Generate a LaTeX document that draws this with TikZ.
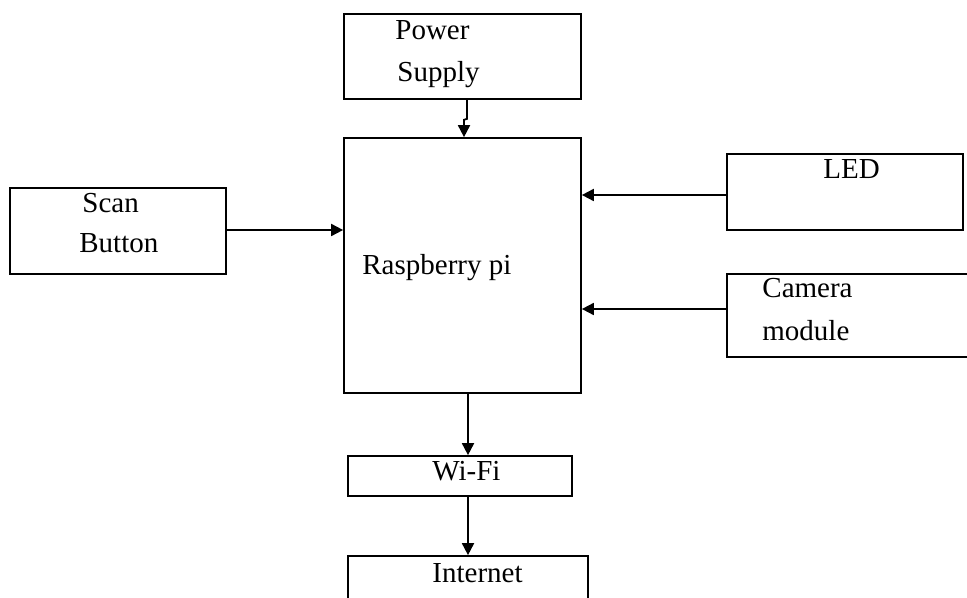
\documentclass[tikz,border=0pt]{standalone}
\usepackage{fontspec}
\setmainfont{Liberation Serif}
\usetikzlibrary{arrows.meta}

\begin{document}
\begin{tikzpicture}[x=0.5pt,y=-0.5pt]
        \tikzset{
        blk box/.style={rectangle,draw,line width=0.85pt,inner sep=0},
        blk text/.style={anchor=base west,inner sep=0,font=\fontsize{14.5}{17}\selectfont},
        blk arrow/.style={draw,line width=0.9pt,-{Triangle[length=6pt,width=6pt]}}
        }
        \clip (0,0) rectangle (967,598);
        % boxes
        \node[blk box, minimum width=118.5pt, minimum height=42.5pt] (ps) at (462.5,56.5) {};
        \node[blk box, minimum width=118.5pt, minimum height=127.5pt] (rpi) at (462.5,265.5) {};
        \node[blk box, minimum width=108pt, minimum height=43pt] (scan) at (118,231) {};
        \node[blk box, minimum width=118pt, minimum height=38pt] (led) at (845,192) {};
        \node[blk box, minimum width=121.5pt, minimum height=41.5pt] (cam) at (848.5,315.5) {};
        \node[blk box, minimum width=112pt, minimum height=20pt] (wifi) at (460,476) {};
        \node[blk box, minimum width=120pt, minimum height=24.5pt] (inet) at (468,580.5) {};

        % labels
        \node[blk text] (pst1) at (395,40) {Power};
        \node[blk text] (pst2) at (397,82) {Supply};
        \node[blk text] (rpit) at (362,275) {Raspberry pi};
        \node[blk text] (scant1) at (82,213) {Scan};
        \node[blk text] (scant2) at (79,253) {Button};
        \node[blk text] (ledt) at (823,179) {LED};
        \node[blk text] (camt1) at (762,298) {Camera};
        \node[blk text] (camt2) at (762,340) {module};
        \node[blk text] (wifit) at (432,480) {Wi-Fi};
        \node[blk text] (inett) at (432,582) {Internet};

        % connections
        \path[blk arrow] ([xshift=2.25pt]ps.south) -- ++(0,19) -- ++(-3,1) -- (rpi.north -| 464,0);
        \path[blk arrow] ([yshift=0.5pt]scan.east) -- ([yshift=0.5pt]scan.east -| rpi.west);
        \path[blk arrow] ([yshift=-1.5pt]led.west) -- ([yshift=-1.5pt]led.west -| rpi.east);
        \path[blk arrow] ([yshift=3.25pt]cam.west) -- ([yshift=3.25pt]cam.west -| rpi.east);
        \path[blk arrow] ([xshift=2.75pt]rpi.south) -- ([xshift=2.75pt]rpi.south |- wifi.north);
        \path[blk arrow] ([xshift=4pt]wifi.south) -- ([xshift=4pt]wifi.south |- inet.north);
    \end{tikzpicture}
\end{document}
